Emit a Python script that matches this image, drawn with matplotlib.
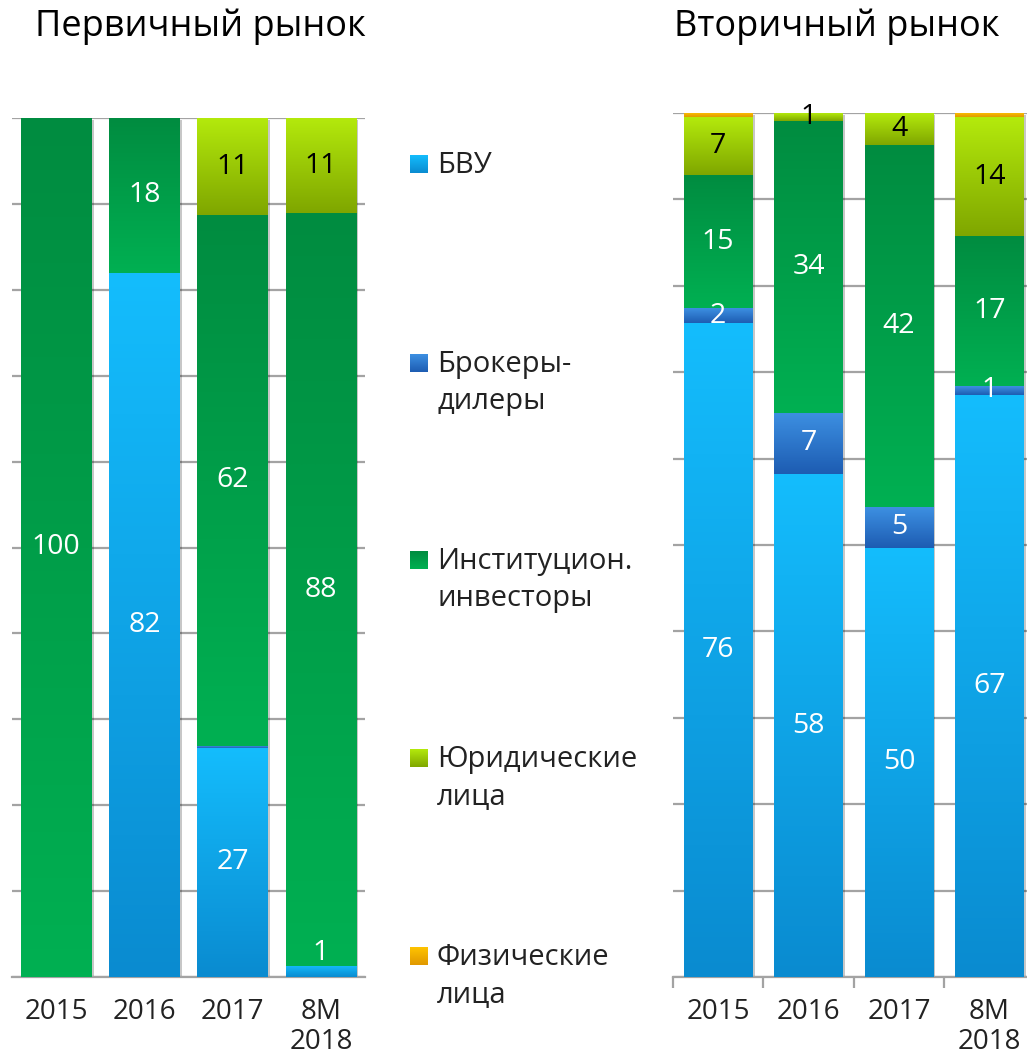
import numpy as np
import matplotlib
matplotlib.use('Agg')
import matplotlib.pyplot as plt
import matplotlib.patheffects as pe
from matplotlib.colors import LinearSegmentedColormap

plt.rcParams['font.family'] = ['Open Sans', 'DejaVu Sans']

years = ['2015', '2016', '2017', '8M\n2018']
series_names = ['БВУ', 'Брокеры-\nдилеры', 'Институцион.\nинвесторы',
                'Юридические\nлица', 'Физические\nлица']

# Первичный рынок, %
prim_bvu = [0, 82, 26.7, 1.3]
prim_brok = [0, 0, 0.2, 0]
prim_inst = [100, 18, 61.8, 87.6]
prim_jur = [0, 0, 11.3, 11.1]
prim_fiz = [0, 0, 0, 0]

# Вторичный рынок, %
sec_bvu = [75.7, 58.2, 49.7, 67.4]
sec_brok = [1.7, 7.1, 4.7, 1.0]
sec_inst = [15.4, 33.8, 41.9, 17.4]
sec_jur = [6.7, 0.9, 3.7, 13.7]
sec_fiz = [0.5, 0, 0, 0.5]

# (верх, низ) градиента для каждой серии
grad_colors = [('#14bdfd', '#0a8bd0'),
               ('#3d90e2', '#1d5cb2'),
               ('#008c40', '#00b052'),
               ('#b4ea0c', '#7fa600'),
               ('#ffc400', '#e09800')]
label_colors = ['white', 'white', 'white', 'black', 'black']

W, H = 1027, 1059
fig = plt.figure(figsize=(W / 100, H / 100), dpi=100)

grad = np.linspace(0, 1, 256).reshape(-1, 1)


def gradient_box(ax, x0, x1, y0, y1, top, bottom, z=3):
    cmap = LinearSegmentedColormap.from_list('g', [bottom, top])
    ax.imshow(grad, cmap=cmap, aspect='auto', origin='lower',
              extent=(x0, x1, y0, y1), zorder=z, interpolation='bicubic')


def stacked(ax, data, width, small_above=False):
    x = np.arange(len(years))
    totals = np.sum(data, axis=0)
    ax.bar(x, totals, width, color='white', zorder=2,
           path_effects=[pe.SimplePatchShadow(offset=(1.5, -1.5), shadow_rgbFace='k', alpha=0.22),
                         pe.Normal()])
    bottom = np.zeros(len(years))
    for i, vals in enumerate(data):
        bars = ax.bar(x, vals, width, bottom=bottom, color=grad_colors[i][1],
                      linewidth=0, zorder=2.5)
        for b, v in zip(bars, vals):
            if v <= 0:
                continue
            bx, by = b.get_x(), b.get_y()
            gradient_box(ax, bx, bx + b.get_width(), by, by + v, *grad_colors[i])
            if v >= 0.8:
                yc = by + v / 2
                if small_above and by == 0 and v < 2:
                    yc = by + v + 1.5
                ax.text(b.get_x() + b.get_width() / 2, yc, f'{round(v)}',
                        ha='center', va='center', fontsize=20.5,
                        color=label_colors[i], zorder=5)
        bottom += np.array(vals)

    ax.set_xlim(-0.5, len(years) - 0.5)
    ax.set_ylim(0, 100)
    ax.set_yticks(np.arange(0, 101, 10))
    ax.set_yticklabels([])
    ax.tick_params(axis='y', length=0)
    ax.grid(axis='y', color='#a3a3a3', linewidth=1.6, zorder=0)
    ax.set_axisbelow(True)
    for s in ['top', 'right', 'left']:
        ax.spines[s].set_visible(False)
    ax.spines['bottom'].set_color('#a3a3a3')
    ax.spines['bottom'].set_linewidth(1.6)
    ax.set_xticks(x)
    ax.set_xticklabels(years, fontsize=20, color='#222222', linespacing=1.12)
    ax.patch.set_alpha(0)


ax1 = fig.add_axes([12 / W, 1 - 977 / H, 353 / W, 859 / H])
stacked(ax1, [prim_bvu, prim_brok, prim_inst, prim_jur, prim_fiz], 0.8, small_above=True)
ax1.tick_params(axis='x', length=0, pad=15)

ax2 = fig.add_axes([673 / W, 1 - 977 / H, 361.6 / W, 864 / H])
stacked(ax2, [sec_bvu, sec_brok, sec_inst, sec_jur, sec_fiz], 0.76)
ax2.set_xticks(np.arange(-0.5, 4, 1), minor=True)
ax2.tick_params(axis='x', which='major', length=0, pad=15)
ax2.tick_params(axis='x', which='minor', length=8, width=1.6, color='#a3a3a3', direction='out')

# заголовки
fig.text(200 / W, 1 - 27 / H, 'Первичный рынок', ha='center', va='center',
         fontsize=26, color='black')
fig.text(837 / W, 1 - 27 / H, 'Вторичный рынок', ha='center', va='center',
         fontsize=26, color='black')

# легенда
axl = fig.add_axes([0, 0, 1, 1], zorder=10)
axl.axis('off')
leg_y = [164, 363, 560, 758, 956]
for name, y, (top, bottom) in zip(series_names, leg_y, grad_colors):
    gradient_box(axl, 410, 428, y + 9, y - 9, top, bottom)
    for k, line in enumerate(name.split('\n')):
        axl.text(437, y + 9 + k * 37, line, ha='left', va='baseline',
                 fontsize=21, color='#222222')
axl.set_xlim(0, W)
axl.set_ylim(H, 0)

fig.savefig('out.png', dpi=100)
